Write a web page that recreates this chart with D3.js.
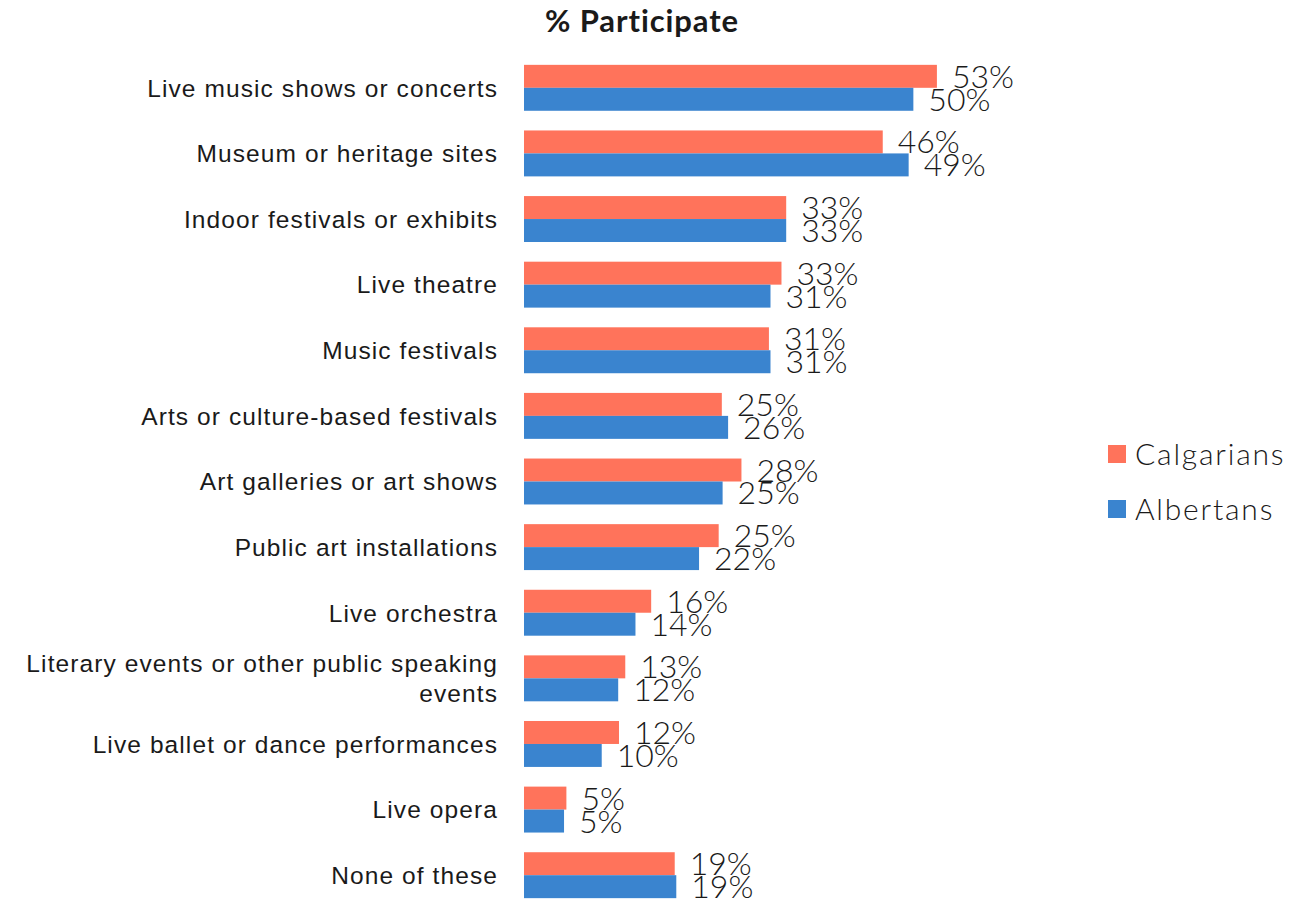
<!DOCTYPE html>
<html>
<head>
<meta charset="utf-8">
<script src="https://cdn.jsdelivr.net/npm/d3@7"></script>
<style>
  html, body { margin: 0; padding: 0; background: #fff; }
  svg { display: block; font-family: Lato, "Noto Sans", sans-serif; }
</style>
</head>
<body>
<svg id="chart" width="1314" height="902"></svg>
<script>
const categories = [
  "Live music shows or concerts",
  "Museum or heritage sites",
  "Indoor festivals or exhibits",
  "Live theatre",
  "Music festivals",
  "Arts or culture-based festivals",
  "Art galleries or art shows",
  "Public art installations",
  "Live orchestra",
  "Literary events or other public speaking events",
  "Live ballet or dance performances",
  "Live opera",
  "None of these"
];
const seriesNames = ["Calgarians", "Albertans"];
const calgarians = [52.6, 45.7, 33.4, 32.8, 31.2, 25.2, 27.7, 24.8, 16.2, 12.9, 12.1, 5.4, 19.2];
const albertans  = [49.6, 49.0, 33.4, 31.4, 31.4, 26.0, 25.3, 22.3, 14.2, 12.0, 9.9, 5.1, 19.4];
const colors = ["#FF735B", "#3A84CF"];
const title = "% Participate";

const svg = d3.select("#chart");
const x = d3.scaleLinear().domain([0, 60]).range([524, 995]);
const y = d3.scaleBand().domain(categories).range([55, 908]).paddingInner(0.3).paddingOuter(0.15);
const ySub = d3.scaleBand().domain(seriesNames).range([0, y.bandwidth()]);
const color = d3.scaleOrdinal().domain(seriesNames).range(colors);

const rows = categories.map((c, i) => ({cat: c, vals: [
  {s: "Calgarians", v: calgarians[i]},
  {s: "Albertans", v: albertans[i]}
]}));

// Title
svg.append("text")
  .attr("x", 642).attr("y", 32)
  .attr("text-anchor", "middle")
  .attr("font-size", 31).attr("font-weight", 700)
  .attr("letter-spacing", 0.9)
  .attr("fill", "#1a1a1a")
  .text(title);

// Bars
const g = svg.selectAll("g.cat").data(rows).join("g")
  .attr("class", "cat")
  .attr("transform", d => `translate(0,${y(d.cat)})`);

g.selectAll("rect").data(d => d.vals).join("rect")
  .attr("x", x(0))
  .attr("y", d => ySub(d.s))
  .attr("width", d => x(d.v) - x(0))
  .attr("height", ySub.bandwidth())
  .attr("fill", d => color(d.s));

// Data labels
g.selectAll("text.val").data(d => d.vals).join("text")
  .attr("class", "val")
  .attr("x", d => x(d.v) + 15)
  .attr("y", d => ySub(d.s) + ySub.bandwidth() / 2)
  .attr("dy", "0.36em")
  .attr("font-size", 32)
  .attr("font-weight", 300)
  .attr("fill", "#1a1a1a")
  .text(d => Math.round(d.v) + "%");

// Category axis (labels only)
const yAxis = d3.axisLeft(y).tickSize(0).tickPadding(0);
const ax = svg.append("g").attr("transform", `translate(498,0)`).call(yAxis);
ax.select(".domain").remove();
ax.selectAll(".tick text").remove();
ax.selectAll(".tick").each(function(c) {
  const t = d3.select(this).append("text")
    .attr("text-anchor", "end")
    .attr("font-size", 24.5)
    .attr("font-weight", 300)
    .attr("letter-spacing", 1.1)
    .attr("fill", "#1a1a1a");
  const lines = c === "Literary events or other public speaking events"
    ? ["Literary events or other public speaking", "events"] : [c];
  const lh = 30;
  lines.forEach((ln, k) => {
    t.append("tspan").attr("x", 0)
      .attr("y", (k - (lines.length - 1) / 2) * lh)
      .attr("dy", "0.36em")
      .text(ln);
  });
});

// Legend
const lg = svg.append("g").selectAll("g").data(seriesNames).join("g")
  .attr("transform", (d, i) => `translate(1108,${454 + i * 55})`);
lg.append("rect").attr("x", 0).attr("y", -9).attr("width", 18).attr("height", 18)
  .attr("fill", d => color(d));
lg.append("text").attr("x", 27).attr("y", 0).attr("dy", "0.36em")
  .attr("font-size", 30).attr("font-weight", 300)
  .attr("letter-spacing", 1.8)
  .attr("fill", "#1a1a1a")
  .text(d => d);
</script>
</body>
</html>
